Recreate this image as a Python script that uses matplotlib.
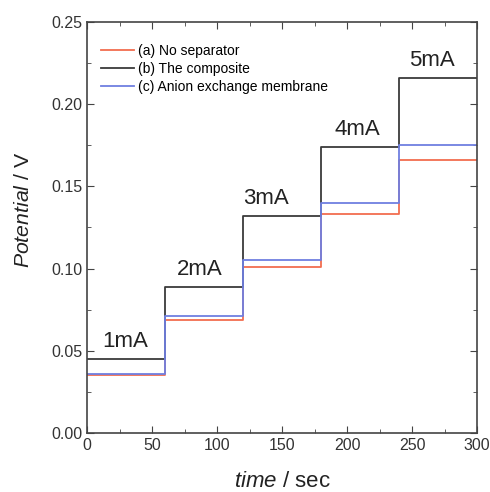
import matplotlib.pyplot as plt
from matplotlib.ticker import MultipleLocator

plt.rcParams['font.family'] = ['Liberation Sans', 'DejaVu Sans']
plt.rcParams['mathtext.fontset'] = 'custom'
plt.rcParams['mathtext.rm'] = 'Liberation Sans'
plt.rcParams['mathtext.it'] = 'Liberation Sans:italic'

step_times = [0, 60, 120, 180, 240, 300]
no_separator = [0.035, 0.069, 0.101, 0.133, 0.166]
composite = [0.045, 0.089, 0.132, 0.174, 0.216]
anion_membrane = [0.036, 0.071, 0.105, 0.140, 0.175]
currents = ['1mA', '2mA', '3mA', '4mA', '5mA']
current_label_x = [29, 87, 138, 208, 265]

fig = plt.figure(figsize=(4.9, 4.92), dpi=100)
ax = fig.add_axes([87 / 490, 59 / 492, 390 / 490, 411 / 492])

series = [
    ('(a) No separator', no_separator, '#f26d4f'),
    ('(b) The composite', composite, '#3a3a3a'),
    ('(c) Anion exchange membrane', anion_membrane, '#6f7fe0'),
]
for label, vals, color in series:
    ax.step(step_times, vals + [vals[-1]], where='post', color=color, lw=1.3, label=label)

for i, txt in enumerate(currents):
    ax.text(current_label_x[i], composite[i] + 0.004, txt, ha='center', va='bottom',
            fontsize=16, color='#222222')

ax.set_xlim(0, 300)
ax.set_ylim(0, 0.25)
ax.xaxis.set_major_locator(MultipleLocator(50))
ax.xaxis.set_minor_locator(MultipleLocator(25))
ax.yaxis.set_major_locator(MultipleLocator(0.05))
ax.yaxis.set_minor_locator(MultipleLocator(0.025))
ax.yaxis.set_major_formatter(plt.FormatStrFormatter('%.2f'))
ax.tick_params(which='both', direction='in', top=True, right=True, labelsize=11.5,
               color='#444444', labelcolor='#333333')
ax.tick_params(which='major', length=5)
ax.tick_params(which='minor', length=3)
for sp in ax.spines.values():
    sp.set_linewidth(1.2)
    sp.set_color('#444444')

ax.set_xlabel('$\\it{time}$ / sec', fontsize=16, color='#222222', labelpad=13)
ax.set_ylabel('$\\it{Potential}$ / V', fontsize=15.3, color='#222222')
ax.yaxis.set_label_coords(-54 / 390, 0.543)
ax.legend(loc='upper left', frameon=False, fontsize=10, handlelength=2.37,
          handletextpad=0.3, labelspacing=0.3, bbox_to_anchor=(0.004, 0.977))

fig.savefig('out.png', dpi=100)
